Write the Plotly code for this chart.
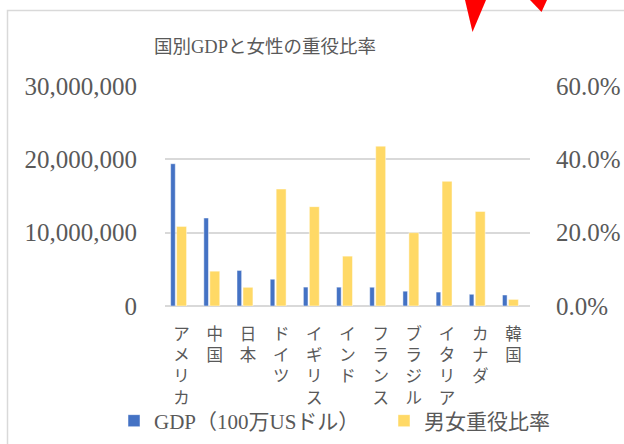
import plotly.graph_objects as go

# ---- data ----
categories = ["アメリカ", "中国", "日本", "ドイツ", "イギリス", "インド",
              "フランス", "ブラジル", "イタリア", "カナダ", "韓国"]
gdp = [19400000, 12000000, 4850000, 3650000, 2580000, 2570000,
       2560000, 2020000, 1900000, 1600000, 1500000]
ratio = [0.217, 0.095, 0.051, 0.319, 0.271, 0.136,
         0.436, 0.200, 0.340, 0.258, 0.018]
gdp_ticks = [0, 10000000, 20000000, 30000000]
ratio_ticks = [0.0, 0.2, 0.4, 0.6]
title_text = "国別GDPと女性の重役比率"
gdp_name = "GDP（100万USドル）"
ratio_name = "男女重役比率"

W, H = 624, 444
L, R, T, B = 165, 94, 86, 138
PW, PH = W - L - R, H - T - B

def px(x):
    return (x - L) / PW

def py(y):
    return (H - B - y) / PH

FONT = "Liberation Serif, Noto Sans CJK JP, serif"
GREY = "#595959"

ticktext = ["<br>".join(list(c)) for c in categories]

fig = go.Figure()
fig.add_trace(go.Bar(
    x=categories, y=gdp, name=gdp_name, showlegend=True,
    marker=dict(color="#4472C4", line=dict(color="rgba(255,255,255,0.6)", width=0.8)),
    width=0.14, offset=-0.33, legend="legend"))
fig.add_trace(go.Bar(
    x=categories, y=ratio, name=ratio_name, yaxis="y2", showlegend=True,
    marker=dict(color="#FFD966", line=dict(color="rgba(255,255,255,0.6)", width=0.8)),
    width=0.30, offset=-0.15, legend="legend2"))

shapes = [
    # chart border
    dict(type="rect", xref="paper", yref="paper",
         x0=px(7.5), x1=px(640), y0=py(10.5), y1=py(460),
         line=dict(color="#d9d9d9", width=1.5), fillcolor="rgba(0,0,0,0)", layer="below"),
    # red arrow heads at the top
    dict(type="path", xref="paper", yref="paper",
         path=f"M{px(465)},{py(0)} L{px(486)},{py(0)} L{px(472.5)},{py(32)} Z",
         fillcolor="#FF0000", line=dict(width=0)),
    dict(type="path", xref="paper", yref="paper",
         path=f"M{px(530)},{py(0)} L{px(547)},{py(0)} L{px(541.5)},{py(12)} Z",
         fillcolor="#FF0000", line=dict(width=0)),
]

fig.update_layout(
    width=W, height=H,
    margin=dict(l=L, r=R, t=T, b=B, autoexpand=False),
    paper_bgcolor="white", plot_bgcolor="white",
    barmode="overlay", showlegend=True,
    font=dict(family=FONT, color=GREY),
    title=dict(text=title_text, font=dict(size=18.5, color=GREY, family=FONT),
               x=265 / W, xanchor="center", xref="container",
               y=1 - 47 / H, yanchor="middle", yref="container"),
    xaxis=dict(type="category", categoryorder="array", categoryarray=categories,
               tickvals=categories, ticktext=ticktext, range=[-0.5, len(categories) - 0.5],
               showgrid=False, showline=False, zeroline=False, ticks="",
               tickfont=dict(size=16.5, color=GREY), ticklabelstandoff=16),
    yaxis=dict(range=[0, 30000000], tickvals=gdp_ticks, tickformat=",",
               showgrid=True, gridcolor="#d9d9d9", gridwidth=1.5,
               zeroline=True, zerolinecolor="#d9d9d9", zerolinewidth=1.5,
               showline=False, ticks="", tickfont=dict(size=25, color=GREY),
               ticklabelstandoff=27),
    yaxis2=dict(range=[0, 0.6], tickvals=ratio_ticks, tickformat=".1%",
                overlaying="y", side="right", showgrid=False, zeroline=False,
                showline=False, ticks="", tickfont=dict(size=25, color=GREY),
                ticklabelstandoff=25),
    legend=dict(orientation="h", xref="container", yref="container",
                x=114 / W, xanchor="left", y=1 - 421 / H, yanchor="middle",
                font=dict(size=21, color=GREY, family=FONT), bgcolor="rgba(0,0,0,0)"),
    legend2=dict(orientation="h", xref="container", yref="container",
                 x=384 / W, xanchor="left", y=1 - 421 / H, yanchor="middle",
                 font=dict(size=21, color=GREY, family=FONT), bgcolor="rgba(0,0,0,0)"),
    shapes=shapes,
)

fig.write_html("out.html",
               config={"displayModeBar": False},
               post_script="document.body.style.margin='0';"
                           "document.body.style.overflow='hidden';")
